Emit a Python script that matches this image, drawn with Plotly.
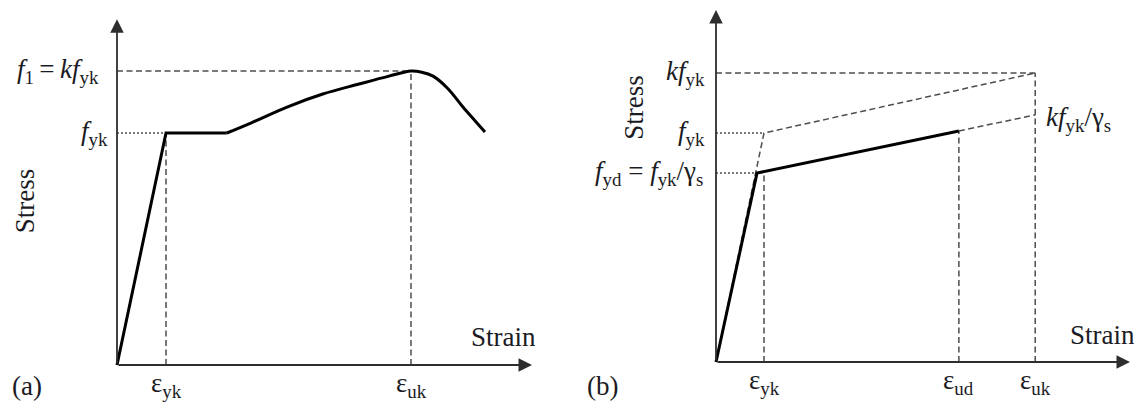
import plotly.graph_objects as go

# ---------------- data (normalised units: eps_yk = 1, f_yk = 1) ----------------
# Panel (a): characteristic stress-strain curve of reinforcing steel
a_eps_yk = 1.0
a_eps_uk = 6.0
a_f_yk = 1.0
a_f1 = 1.267                      # f1 = k * f_yk
a_lin_strain = [0.0, 1.0, 2.24]   # elastic branch + yield plateau
a_lin_stress = [0.0, 1.0, 1.0]
a_hard_strain = [2.24, 2.73, 3.47, 4.20, 4.94, 5.55, 6.0, 6.22, 6.45, 6.75, 7.06, 7.31, 7.51]
a_hard_stress = [1.0, 1.043, 1.112, 1.168, 1.211, 1.245, 1.267, 1.262, 1.245, 1.192, 1.112, 1.052, 1.004]
a_axis_end = [8.47, 1.49]        # arrow tips (strain, stress)

# Panel (b): idealised characteristic (dashed) and design (solid) diagrams
b_eps_yk = 1.0
b_eps_ud = 5.06
b_eps_uk = 6.65
b_f_yk = 1.0
b_kf_yk = 1.262
b_f_yd = 0.825
b_kf_yk_gs = 1.079
b_char_strain = [0.0, 1.0, 6.65]
b_char_stress = [0.0, 1.0, 1.262]
b_des_strain = [0.0, 0.854, 5.06]
b_des_stress = [0.0, 0.825, 1.009]
b_des_ext_strain = [5.06, 6.65]
b_des_ext_stress = [1.009, 1.079]
b_axis_end = [8.625, 1.537]

# ---------------- geometry (page pixels) ----------------
PAGE_W, PAGE_H = 1142, 405
BODY = 8                                  # default page margin around the plot
W, H = PAGE_W - BODY, PAGE_H - BODY
A_ORIG, A_SCALE = (117, 365), (49.0, 232.0)   # origin px, px per unit
B_ORIG, B_SCALE = (716, 362), (48.0, 229.0)
SPLIT = 0.5

def xr(p0, p1, o, s):
    return [(p0 + BODY - o) / s, (p1 + BODY - o) / s]

def yr(o, s):
    return [(o - (H + BODY)) / s, (o - BODY) / s]

# ---------------- styling ----------------
FONT = "Liberation Serif"
TXT = "#1b1b24"
DASH = "6px,3.5px"
DOT = "2px,2px"
GREY = "#4d4d4d"
FS = 27

fig = go.Figure()

def line(xs, ys, ax, dash=None, width=1.5, color=GREY, shape="linear"):
    fig.add_trace(go.Scatter(
        x=xs, y=ys, mode="lines", xaxis=ax[0], yaxis=ax[1],
        line=dict(color=color, width=width, dash=dash, shape=shape),
        hoverinfo="skip", showlegend=False))

A = ("x", "y")
B = ("x2", "y2")

# ---- panel (a) guides
line([0, a_eps_uk], [a_f1, a_f1], A, dash=DASH)
line([0, a_eps_yk], [a_f_yk, a_f_yk], A, dash=DOT)
line([a_eps_yk, a_eps_yk], [0, a_f_yk], A, dash=DASH)
line([a_eps_uk, a_eps_uk], [0, a_f1], A, dash=DASH)
# ---- panel (a) curve
line(a_lin_strain, a_lin_stress, A, width=3, color="black")
line(a_hard_strain, a_hard_stress, A, width=3, color="black", shape="spline")

# ---- panel (b) guides
line([0, b_eps_uk], [b_kf_yk, b_kf_yk], B, dash=DASH)
line([0, b_eps_yk], [b_f_yk, b_f_yk], B, dash=DOT)
line([0, b_des_strain[1]], [b_f_yd, b_f_yd], B, dash=DOT)
line([b_eps_yk, b_eps_yk], [0, b_f_yd], B, dash=DASH)
line([b_eps_ud, b_eps_ud], [0, b_des_stress[-1]], B, dash=DASH)
line([b_eps_uk, b_eps_uk], [0, b_kf_yk], B, dash=DASH)
line(b_char_strain, b_char_stress, B, dash=DASH)
line(b_des_ext_strain, b_des_ext_stress, B, dash=DASH)
# ---- panel (b) design curve
line(b_des_strain, b_des_stress, B, width=3, color="black")

ann = []

def arrow(tipx, tipy, xref, yref):
    ann.append(dict(x=tipx, y=tipy, ax=0, ay=0, xref=xref, yref=yref, axref=xref, ayref=yref,
                    text="", showarrow=True, arrowhead=2, arrowsize=1.5, arrowwidth=1.8,
                    arrowcolor="#2e2e2e", standoff=0, startstandoff=0))

arrow(a_axis_end[0], 0, "x", "y")
arrow(0, a_axis_end[1], "x", "y")
arrow(b_axis_end[0], 0, "x2", "y2")
arrow(0, b_axis_end[1], "x2", "y2")

def text(t, x, y, xref, yref, xa="center", ya="middle", size=FS, angle=0, xs=0, ys=0):
    ann.append(dict(text=t, x=x, y=y, xref=xref, yref=yref, xanchor=xa, yanchor=ya,
                    showarrow=False, textangle=angle, xshift=xs, yshift=ys,
                    font=dict(family=FONT, size=size, color=TXT)))

# panel (a) labels
text("<i>f</i><sub>1</sub>\u2009=\u2009<i>kf</i><sub>yk</sub>", 0, a_f1, "x", "y", xa="right", xs=-16)
text("<i>f</i><sub>yk</sub>", 0, a_f_yk, "x", "y", xa="right", xs=-7)
text("ε<sub>yk</sub>", a_eps_yk, 0, "x", "y", ya="top", ys=-1)
text("ε<sub>uk</sub>", a_eps_uk, 0, "x", "y", ya="top", ys=-1)
text("Strain", 8.6, 0.12, "x", "y", xa="right")
text("Stress", -1.88, 0.71, "x", "y", angle=-90)
text("(a)", 2 / W, 0.0, "paper", "paper", xa="left", ya="bottom", ys=2)

# panel (b) labels
text("<i>kf</i><sub>yk</sub>", 0, b_kf_yk, "x2", "y2", xa="right", xs=-9)
text("<i>f</i><sub>yk</sub>", 0, b_f_yk, "x2", "y2", xa="right", xs=-9)
text("<i>f</i><sub>yd</sub> = <i>f</i><sub>yk</sub>/γ<sub>s</sub>", 0, b_f_yd, "x2", "y2", xa="right", xs=-11)
text("<i>kf</i><sub>yk</sub>/γ<sub>s</sub>", b_eps_uk, b_kf_yk_gs, "x2", "y2", xa="left", xs=9, ys=-4)
text("ε<sub>yk</sub>", b_eps_yk, 0, "x2", "y2", ya="top", ys=-1)
text("ε<sub>ud</sub>", b_eps_ud, 0, "x2", "y2", ya="top", ys=-1)
text("ε<sub>uk</sub>", b_eps_uk, 0, "x2", "y2", ya="top", ys=-1)
text("Strain", 8.78, 0.118, "x2", "y2", xa="right")
text("Stress", -1.71, 1.114, "x2", "y2", angle=-90)
text("(b)", 577 / W, 0.0, "paper", "paper", xa="left", ya="bottom", ys=2)

split_px = SPLIT * W
hidden = dict(visible=False, fixedrange=True)
fig.update_layout(
    width=W, height=H, margin=dict(l=0, r=0, t=0, b=0),
    paper_bgcolor="white", plot_bgcolor="white", showlegend=False,
    xaxis=dict(domain=[0, SPLIT], range=xr(0, split_px, A_ORIG[0], A_SCALE[0]), **hidden),
    yaxis=dict(domain=[0, 1], range=yr(A_ORIG[1], A_SCALE[1]), **hidden),
    xaxis2=dict(domain=[SPLIT, 1], range=xr(split_px, W, B_ORIG[0], B_SCALE[0]),
                anchor="y2", **hidden),
    yaxis2=dict(domain=[0, 1], range=yr(B_ORIG[1], B_SCALE[1]), anchor="x2", **hidden),
    annotations=ann,
)

fig.write_html("out.html")
